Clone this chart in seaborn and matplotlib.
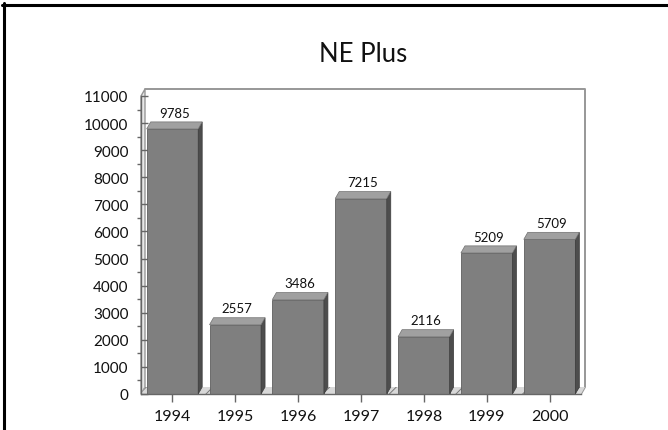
import matplotlib
matplotlib.use('Agg')
import matplotlib.pyplot as plt
from matplotlib.patches import Polygon
from matplotlib.ticker import MultipleLocator
import pandas as pd
import seaborn as sns

years = ['1994', '1995', '1996', '1997', '1998', '1999', '2000']
values = [9785, 2557, 3486, 7215, 2116, 5209, 5709]
yTicks = list(range(0, 12000, 1000))

figW, figH = 668, 431
axLeft, axRight, axTop, axBottom = 141, 581, 97, 395

# depth of the fake 3D look, in pixels
depthX, depthY = 4, 7

sns.set_theme(style='white')
plt.rcParams['font.family'] = ['Lato', 'DejaVu Sans']
plt.rcParams['hatch.linewidth'] = 0.7

fig = plt.figure(figsize=(figW / 100, figH / 100), dpi=100)
ax = fig.add_axes([axLeft / figW, 1 - axBottom / figH, (axRight - axLeft) / figW, (axBottom - axTop) / figH])

df = pd.DataFrame({'year': years, 'value': values})
sns.barplot(data=df, x='year', y='value', color='#7f7f7f', saturation=1, width=0.82,
            edgecolor='#5f5f5f', linewidth=0.6, ax=ax, zorder=3)
ax.set_xlim(-0.5, 6.5)
ax.set_ylim(0, 11000)
ax.set_xlabel('')
ax.set_ylabel('')

unitX = 7 / (axRight - axLeft)
unitY = 11000 / (axBottom - axTop)
dx = depthX * unitX
dy = depthY * unitY
wallColor = '#979797'

# back wall and left wall
ax.add_patch(Polygon([(-0.5, 0), (-0.5 + dx, dy), (-0.5 + dx, 11000 + dy), (-0.5, 11000)],
                     closed=True, facecolor='#e8e8e8', edgecolor=wallColor, lw=1, clip_on=False, zorder=1))
ax.plot([-0.5 + dx, 6.5 + dx, 6.5 + dx, 6.5], [11000 + dy, 11000 + dy, dy, 0], color=wallColor, lw=1.4,
        clip_on=False, zorder=1)
# floor
ax.add_patch(Polygon([(-0.5, 0), (6.5, 0), (6.5 + dx, dy), (-0.5 + dx, dy)],
                     closed=True, facecolor='#d8d8d8', edgecolor='#777777', lw=0, hatch='//',
                     clip_on=False, zorder=1))

# side and top faces of every bar, then its value
for bar, val in zip(ax.patches[:len(values)], values):
    x0 = bar.get_x()
    x1 = x0 + bar.get_width()
    ax.add_patch(Polygon([(x1, 0), (x1 + dx, dy), (x1 + dx, val + dy), (x1, val)],
                         closed=True, facecolor='#4d4d4d', edgecolor='#3c3c3c', lw=0.5, clip_on=False, zorder=3))
    ax.add_patch(Polygon([(x0, val), (x1, val), (x1 + dx, val + dy), (x0 + dx, val + dy)],
                         closed=True, facecolor='#a0a0a0', edgecolor='#707070', lw=0.5, clip_on=False, zorder=3))
    ax.text((x0 + x1) / 2 + dx / 2, val + dy + 120, str(val), ha='center', va='bottom',
            fontsize=9.5, color='#111111', zorder=4)

sns.despine(ax=ax, top=True, right=True)
for side in ['left', 'bottom']:
    ax.spines[side].set_color('#666666')
    ax.spines[side].set_linewidth(1)
    ax.spines[side].set_zorder(5)

ax.set_yticks(yTicks)
ax.yaxis.set_minor_locator(MultipleLocator(500))
ax.tick_params(axis='y', which='major', direction='in', length=5, width=1, color='#666666',
               labelsize=11, labelcolor='#111111', pad=9, left=True)
ax.tick_params(axis='y', which='minor', direction='out', length=3, width=1, color='#666666', left=True)
ax.tick_params(axis='x', which='major', direction='out', length=6, width=1, color='#666666',
               labelsize=11.5, labelcolor='#111111', pad=5, bottom=True)
ax.set_axisbelow(False)

fig.text(363 / figW, 1 - 54 / figH, 'NE Plus', ha='center', va='center', fontsize=18.5, color='#111111')

# black frame of the source picture
fig.add_artist(plt.Line2D([3.5 / figW, 3.5 / figW], [0, 1 - 4 / figH], color='black', lw=2.2))
fig.add_artist(plt.Line2D([2 / figW, 1], [1 - 5.5 / figH, 1 - 5.5 / figH], color='black', lw=2.2))

fig.savefig('out.png', dpi=100)
